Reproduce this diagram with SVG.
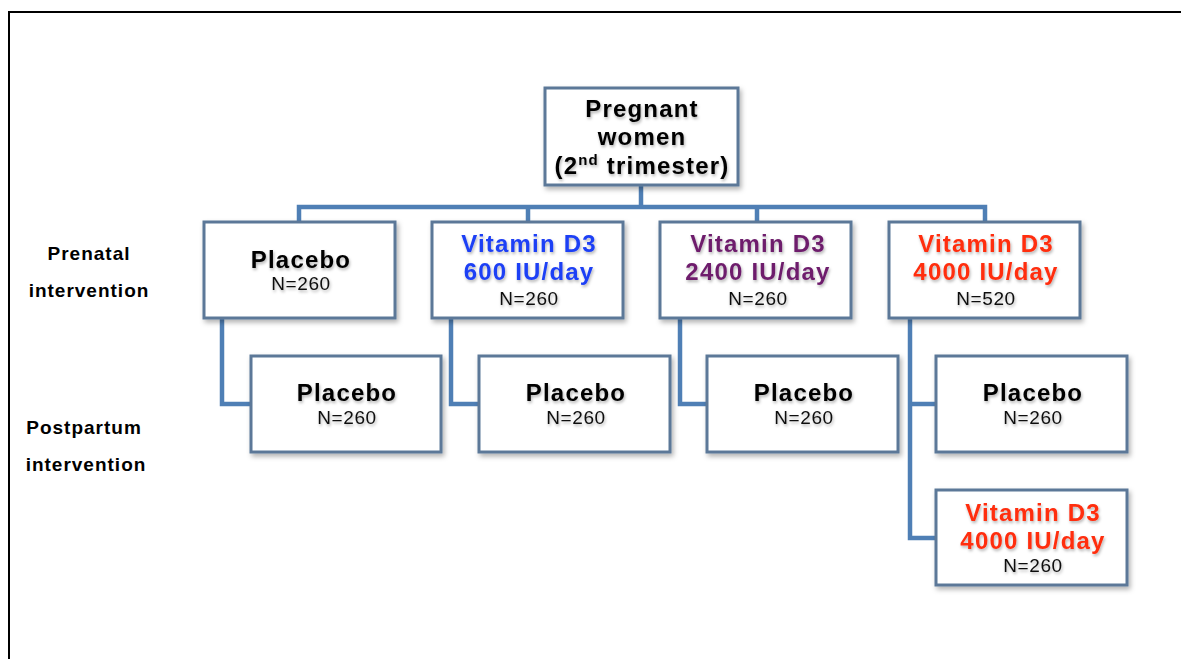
<svg xmlns="http://www.w3.org/2000/svg" width="1181" height="659" viewBox="0 0 1181 659">
<defs>
<filter id="sh" x="-10%" y="-10%" width="130%" height="130%">
<feDropShadow dx="2" dy="3" stdDeviation="2.5" flood-color="#000" flood-opacity="0.3"/>
</filter>
<filter id="tsh" x="-10%" y="-20%" width="120%" height="150%">
<feDropShadow dx="1" dy="2" stdDeviation="1.5" flood-color="#000" flood-opacity="0.3"/>
</filter>
<style>
.box{fill:#fff;stroke:#5b7898;stroke-width:3;filter:url(#sh)}
.con{fill:none;stroke:#4f7fb5;stroke-width:4.5;stroke-linejoin:miter}
text{font-family:"Liberation Sans",Arial,sans-serif;text-anchor:middle;filter:url(#tsh)}
.t{font-weight:bold;font-size:24px;letter-spacing:1.2px;fill:#000}
.n{font-size:19px;letter-spacing:0.6px;fill:#111}
.lab{font-weight:bold;font-size:19px;letter-spacing:1px;fill:#000;filter:none}
.blue{fill:#1f3ff5}
.purple{fill:#6e1f6c}
.red{fill:#ff2d10}
</style>
</defs>
<rect x="9" y="12" width="1190" height="670" fill="#fff" stroke="#000" stroke-width="2"/>
<g id="connectors">
<path class="con" d="M641 185V207M299 222V207H985V222M528 207V222M757 207V222"/>
<path class="con" d="M222 318V404H251"/>
<path class="con" d="M451 318V404H479"/>
<path class="con" d="M680 318V404H707"/>
<path class="con" d="M910 318V538H936M910 404H936"/>
</g>
<g id="label-prenatal">
<text class="lab" x="89" y="260">Prenatal</text>
<text class="lab" x="89" y="297">intervention</text>
</g>
<g id="label-postpartum">
<text class="lab" x="84" y="434">Postpartum</text>
<text class="lab" x="86" y="471">intervention</text>
</g>
<g id="root">
<rect class="box" x="545" y="88" width="193" height="97"/>
<text class="t" x="642" y="117">Pregnant</text>
<text class="t" x="642" y="145">women</text>
<text class="t" x="642" y="174">(2<tspan font-size="15" dy="-9">nd</tspan><tspan dy="9"> trimester)</tspan></text>
</g>
<g id="pre-placebo">
<rect class="box" x="204" y="222" width="191" height="96"/>
<text class="t" x="301" y="268">Placebo</text>
<text class="n" x="301" y="290">N=260</text>
</g>
<g id="pre-600">
<rect class="box" x="432" y="222" width="191" height="96"/>
<text class="t blue" x="529" y="252">Vitamin D3</text>
<text class="t blue" x="529" y="280">600 IU/day</text>
<text class="n" x="529" y="305">N=260</text>
</g>
<g id="pre-2400">
<rect class="box" x="660" y="222" width="191" height="96"/>
<text class="t purple" x="758" y="252">Vitamin D3</text>
<text class="t purple" x="758" y="280">2400 IU/day</text>
<text class="n" x="758" y="305">N=260</text>
</g>
<g id="pre-4000">
<rect class="box" x="889" y="222" width="191" height="96"/>
<text class="t red" x="986" y="252">Vitamin D3</text>
<text class="t red" x="986" y="280">4000 IU/day</text>
<text class="n" x="986" y="305">N=520</text>
</g>
<g id="post-placebo-1">
<rect class="box" x="251" y="356" width="190" height="96"/>
<text class="t" x="347" y="401">Placebo</text>
<text class="n" x="347" y="424">N=260</text>
</g>
<g id="post-placebo-2">
<rect class="box" x="479" y="356" width="191" height="96"/>
<text class="t" x="576" y="401">Placebo</text>
<text class="n" x="576" y="424">N=260</text>
</g>
<g id="post-placebo-3">
<rect class="box" x="707" y="356" width="191" height="96"/>
<text class="t" x="804" y="401">Placebo</text>
<text class="n" x="804" y="424">N=260</text>
</g>
<g id="post-placebo-4">
<rect class="box" x="936" y="356" width="191" height="96"/>
<text class="t" x="1033" y="401">Placebo</text>
<text class="n" x="1033" y="424">N=260</text>
</g>
<g id="post-4000">
<rect class="box" x="936" y="490" width="191" height="95"/>
<text class="t red" x="1033" y="521">Vitamin D3</text>
<text class="t red" x="1033" y="549">4000 IU/day</text>
<text class="n" x="1033" y="572">N=260</text>
</g>
</svg>
